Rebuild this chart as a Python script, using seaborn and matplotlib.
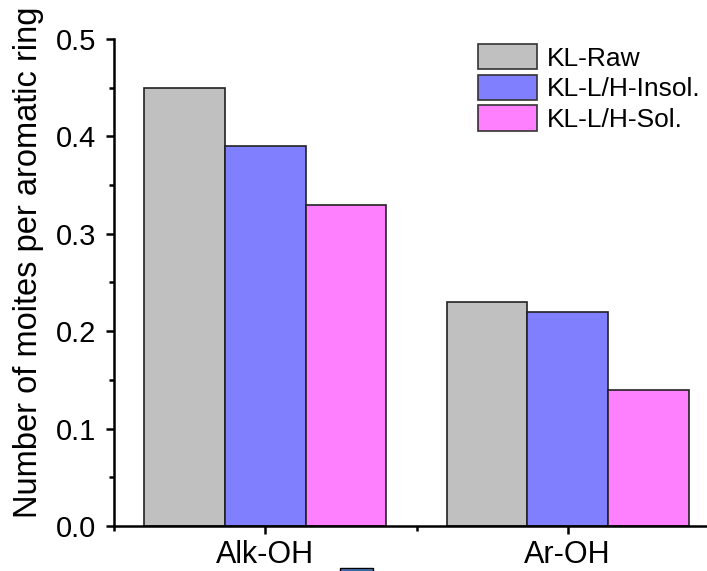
import matplotlib
matplotlib.use("Agg")
import matplotlib.pyplot as plt
import seaborn as sns
import pandas as pd
from matplotlib.ticker import MultipleLocator
from matplotlib.patches import Rectangle

categories = ["Alk-OH", "Ar-OH"]
series = ["KL-Raw", "KL-L/H-Insol.", "KL-L/H-Sol."]
raw_vals = [0.45, 0.23]
insol_vals = [0.39, 0.22]
sol_vals = [0.33, 0.14]
colors = ["#C0C0C0", "#8080FF", "#FF80FF"]
ylabel = "Number of moites per aromatic ring"

rows = []
for s, vals in zip(series, [raw_vals, insol_vals, sol_vals]):
    for c, v in zip(categories, vals):
        rows.append({"cat": c, "series": s, "value": v})
df = pd.DataFrame(rows)

sns.set_theme(style="ticks")
plt.rcParams["font.family"] = ["Liberation Sans", "DejaVu Sans"]
plt.rcParams["text.color"] = "black"
plt.rcParams["axes.labelcolor"] = "black"

W, H = 707, 571
fig = plt.figure(figsize=(W / 100, H / 100), dpi=100)
left, right, bottom, top = 114, 719, 526, 39
ax_w = right - left
ax_h = bottom - top
ax = fig.add_axes([left / W, 1 - bottom / H, ax_w / W, ax_h / H])

sns.barplot(data=df, x="cat", y="value", hue="series", hue_order=series,
            order=categories, palette=colors, width=0.8, saturation=1,
            edgecolor="#222222", linewidth=1.2, ax=ax)

ax.set_xlim(-0.5, 1.5)
ax.set_ylim(0, 0.5)
ax.yaxis.set_major_locator(MultipleLocator(0.1))
ax.yaxis.set_minor_locator(MultipleLocator(0.05))
ax.xaxis.set_minor_locator(MultipleLocator(0.5))
ax.set_yticklabels([f"{v:.1f}" for v in ax.get_yticks()])
ax.set_xlabel("")
ax.set_ylabel(ylabel, fontsize=23.5, color="black")
ax.yaxis.set_label_coords((44 - left) / ax_w, (bottom - 262) / ax_h)
ax.tick_params(axis="both", which="major", direction="out", length=6, width=1.8,
               color="black", labelcolor="black")
ax.tick_params(axis="both", which="minor", direction="out", length=3.5, width=1.8,
               color="black")
ax.tick_params(axis="x", which="major", pad=4, labelsize=22)
ax.tick_params(axis="y", which="major", pad=7, labelsize=21)
for sp in ["top", "right"]:
    ax.spines[sp].set_visible(False)
for sp in ["left", "bottom"]:
    ax.spines[sp].set_linewidth(1.8)
    ax.spines[sp].set_color("black")

leg = ax.legend(loc="upper left",
                bbox_to_anchor=((478 - left) / ax_w, (bottom - 44) / ax_h),
                frameon=False, fontsize=19, handlelength=2.23, handleheight=1.1,
                labelspacing=0.15, handletextpad=0.38, borderaxespad=0.0,
                borderpad=0.0, labelcolor="black")
for h in leg.legend_handles:
    h.set_edgecolor("#333333")
    h.set_linewidth(1.2)

# small clipped patch seen at the bottom of the reference
fig.patches.append(Rectangle((340 / W, 0), 33 / W, 3 / H, transform=fig.transFigure,
                             facecolor="#4A7EC4", edgecolor="black", linewidth=1.0))

fig.savefig("out.png", dpi=100)
